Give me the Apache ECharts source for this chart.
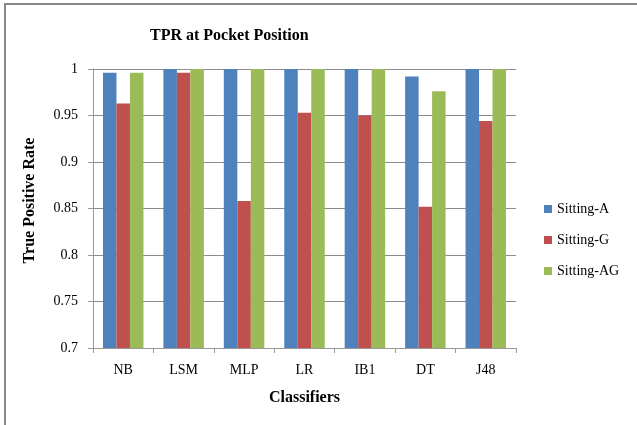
<!DOCTYPE html>
<html>
<head>
<meta charset="utf-8">
<script src="https://cdn.jsdelivr.net/npm/echarts@6/dist/echarts.min.js"></script>
<style>
  html, body { margin: 0; padding: 0; background: #fff; }
  #chart { width: 637px; height: 425px; }
</style>
</head>
<body>
<div id="chart"></div>
<script>
var classifiers = ['NB', 'LSM', 'MLP', 'LR', 'IB1', 'DT', 'J48'];
var sittingA  = [0.996, 1, 1, 1, 1, 0.992, 1];
var sittingG  = [0.963, 0.996, 0.858, 0.953, 0.950, 0.852, 0.944];
var sittingAG = [0.996, 1, 1, 1, 1, 0.976, 1];
var yTicks = [0.7, 0.75, 0.8, 0.85, 0.9, 0.95, 1];

var serif = '"Liberation Serif", "Times New Roman", serif';

function bar(name, data, color) {
    return {
        name: name,
        type: 'bar',
        data: data,
        barGap: 0,
        barCategoryGap: '33%',
        itemStyle: { color: color }
    };
}

var option = {
    animation: false,
    textStyle: { fontFamily: serif },
    graphic: [{
        type: 'rect',
        shape: { x: 5, y: 4, width: 700, height: 500 },
        style: { fill: 'none', stroke: '#888', lineWidth: 2 },
        silent: true
    }],
    title: {
        text: 'TPR at Pocket Position',
        left: 145,
        top: 23,
        textStyle: { fontFamily: serif, fontSize: 16, fontWeight: 'bold', color: '#000' }
    },
    legend: {
        orient: 'vertical',
        left: 539,
        top: 197,
        itemWidth: 8,
        itemHeight: 8,
        itemGap: 17,
        icon: 'rect',
        textStyle: { fontFamily: serif, fontSize: 14, color: '#000' },
        data: ['Sitting-A', 'Sitting-G', 'Sitting-AG']
    },
    grid: { left: 93, right: 121, top: 69, bottom: 77 },
    xAxis: {
        type: 'category',
        data: classifiers,
        name: 'Classifiers',
        nameLocation: 'middle',
        nameGap: 42,
        nameTextStyle: { fontFamily: serif, fontSize: 16, fontWeight: 'bold', color: '#000' },
        axisLine: { lineStyle: { color: '#999' } },
        axisTick: { show: true, length: 5, lineStyle: { color: '#999' } },
        axisLabel: { fontFamily: serif, fontSize: 14, color: '#000', margin: 15 }
    },
    yAxis: {
        type: 'value',
        min: 0.7,
        max: 1,
        interval: 0.05,
        name: 'True Positive Rate',
        nameLocation: 'middle',
        nameGap: 55,
        nameTextStyle: { fontFamily: serif, fontSize: 16, fontWeight: 'bold', color: '#000', padding: [0, 0, 0, 16] },
        axisLine: { show: true, lineStyle: { color: '#999' } },
        axisTick: { show: true, length: 5, lineStyle: { color: '#999' } },
        splitLine: { lineStyle: { color: '#8c8c8c', width: 1 } },
        axisLabel: {
            fontFamily: serif, fontSize: 14, color: '#000', margin: 15,
            formatter: function (v) {
                var s = yTicks.filter(function (t) { return Math.abs(t - v) < 1e-6; });
                return s.length ? String(s[0]) : '';
            }
        }
    },
    series: [
        bar('Sitting-A', sittingA, '#4f81bd'),
        bar('Sitting-G', sittingG, '#c0504d'),
        bar('Sitting-AG', sittingAG, '#9bbb59')
    ]
};

var chart = echarts.init(document.getElementById('chart'));
chart.setOption(option);
</script>
</body>
</html>
